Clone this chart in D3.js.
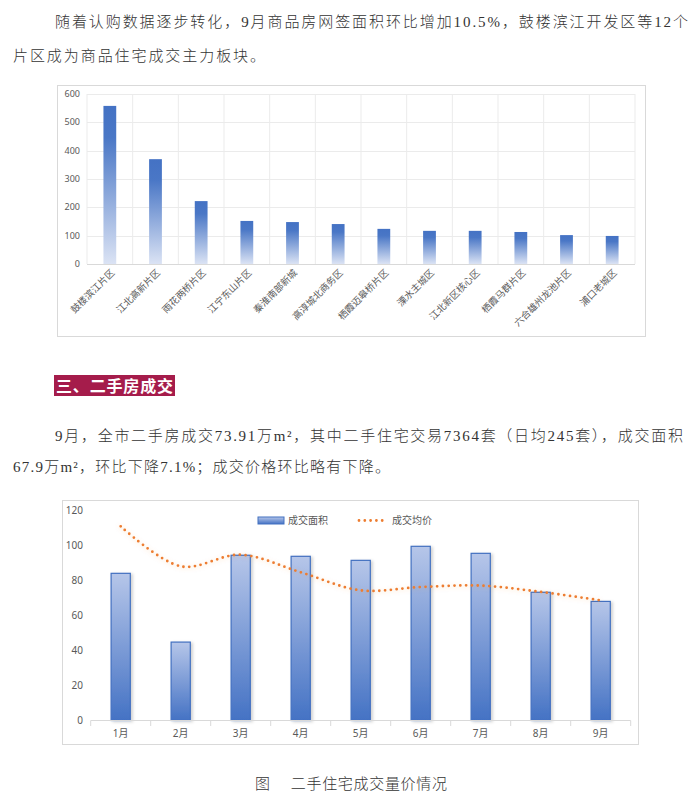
<!DOCTYPE html>
<html>
<head>
<meta charset="utf-8">
<script src="https://cdn.jsdelivr.net/npm/d3@7"></script>
<style>
	body { margin: 0; background: #fff; }
	svg { display: block; }
	.txt { font-family: "Liberation Serif", "Noto Sans CJK SC", serif; fill: #333; font-weight: 300; }
	.lbl { font-family: "Noto Sans", "Noto Sans CJK SC", sans-serif; fill: #595959; }
</style>
</head>
<body>
<svg id="page" width="700" height="799"></svg>
<script>
// 片区成交面积（上图）
var districts = ['鼓楼滨江片区', '江北高新片区', '雨花两桥片区', '江宁东山片区', '秦淮南部新城', '高淳城北商务区',
	'栖霞迈皋桥片区', '溧水主城区', '江北新区核心区', '栖霞马群片区', '六合雄州龙池片区', '浦口老城区'];
var districtArea = [558, 370, 222, 152, 148, 141, 124, 117, 117, 113, 102, 99];
var districtTicks = [0, 100, 200, 300, 400, 500, 600];

// 二手住宅成交量价（下图）
var months = ['1月', '2月', '3月', '4月', '5月', '6月', '7月', '8月', '9月'];
var areaValues = [83.9, 44.7, 94.2, 93.6, 91.3, 99.3, 95.3, 73.1, 67.9];
var priceValues = [110.7, 87.9, 94.5, 84.5, 74.2, 76.1, 76.9, 73.3, 68.5];
var monthTicks = [0, 20, 40, 60, 80, 100, 120];
var legendNames = ['成交面积', '成交均价'];

var svg = d3.select('#page');
var defs = svg.append('defs');

var g1 = defs.append('linearGradient').attr('id', 'grad1').attr('x1', 0).attr('y1', 0).attr('x2', 0).attr('y2', 1);
g1.append('stop').attr('offset', 0).attr('stop-color', '#4472c4');
g1.append('stop').attr('offset', 0.2).attr('stop-color', '#4a77c6');
g1.append('stop').attr('offset', 1).attr('stop-color', '#dbe3f4');

var g2 = defs.append('linearGradient').attr('id', 'grad2').attr('x1', 0).attr('y1', 0).attr('x2', 0).attr('y2', 1);
g2.append('stop').attr('offset', 0).attr('stop-color', '#b6c6e9');
g2.append('stop').attr('offset', 1).attr('stop-color', '#4472c4');

var sh = defs.append('filter').attr('id', 'shadow').attr('x', '-30%').attr('y', '-10%').attr('width', '160%').attr('height', '120%');
sh.append('feDropShadow').attr('dx', 2).attr('dy', 1).attr('stdDeviation', 1.6)
	.attr('flood-color', '#000').attr('flood-opacity', 0.18);

var glow = defs.append('filter').attr('id', 'glow').attr('x', '-10%').attr('y', '-20%').attr('width', '120%').attr('height', '140%');
glow.append('feDropShadow').attr('dx', 0).attr('dy', 1).attr('stdDeviation', 2)
	.attr('flood-color', '#ed7d31').attr('flood-opacity', 0.25);

// 正文
var addLine = function(str, x, y, len, size) {
	return svg.append('text').attr('class', 'txt')
		.attr('x', x).attr('y', y)
		.attr('font-size', size || 15)
		.attr('textLength', len).attr('lengthAdjust', 'spacing')
		.text(str);
};

addLine('随着认购数据逐步转化，9月商品房网签面积环比增加10.5%，鼓楼滨江开发区等12个', 55, 27, 633);
addLine('片区成为商品住宅成交主力板块。', 13, 61, 252);

svg.append('rect').attr('x', 54).attr('y', 375).attr('width', 121).attr('height', 21).attr('fill', '#a51c4b');
svg.append('text').attr('x', 56).attr('y', 391.5)
	.attr('font-family', '"Noto Sans CJK SC", sans-serif').attr('font-weight', 'bold')
	.attr('font-size', 16).attr('fill', '#fff')
	.attr('textLength', 117).attr('lengthAdjust', 'spacing')
	.text('三、二手房成交');

addLine('9月，全市二手房成交73.91万m²，其中二手住宅交易7364套（日均245套），成交面积', 55, 441, 628);
addLine('67.9万m²，环比下降7.1%；成交价格环比略有下降。', 13, 472, 377);

svg.append('text').attr('class', 'txt').attr('x', 255).attr('y', 789)
	.attr('font-family', '"Noto Sans CJK SC", sans-serif').attr('font-size', 15)
	.attr('textLength', 192).attr('lengthAdjust', 'spacing')
	.text('图\u3000 二手住宅成交量价情况');

// ---------- 上图 ----------
svg.append('rect').attr('x', 57.5).attr('y', 85.5).attr('width', 588).attr('height', 251)
	.attr('fill', '#fff').attr('stroke', '#d9d9d9');

var x1 = d3.scaleBand().domain(districts).range([87, 635]).paddingInner(0.72).paddingOuter(0.36);
var y1 = d3.scaleLinear().domain([0, 600]).range([264, 94]);
var half1 = (x1.step() - x1.bandwidth()) / 2;

var c1 = svg.append('g');
c1.selectAll('.hgrid').data(districtTicks.slice(1)).enter().append('line')
	.attr('x1', 87).attr('x2', 635)
	.attr('y1', function(d) { return Math.round(y1(d)) + 0.5; })
	.attr('y2', function(d) { return Math.round(y1(d)) + 0.5; })
	.attr('stroke', '#ebebeb');
c1.selectAll('.vgrid').data(districts.concat([null])).enter().append('line')
	.attr('x1', function(d) { return d ? x1(d) - half1 : 635; })
	.attr('x2', function(d) { return d ? x1(d) - half1 : 635; })
	.attr('y1', 94).attr('y2', 264)
	.attr('stroke', '#ebebeb');
c1.append('line').attr('x1', 87).attr('x2', 635).attr('y1', 264.5).attr('y2', 264.5).attr('stroke', '#d9d9d9');

c1.selectAll('.bar').data(districtArea).enter().append('rect')
	.attr('x', function(d, i) { return x1(districts[i]); })
	.attr('y', function(d) { return y1(d); })
	.attr('width', x1.bandwidth())
	.attr('height', function(d) { return y1(0) - y1(d); })
	.attr('fill', 'url(#grad1)');

c1.selectAll('.ylab').data(districtTicks).enter().append('text').attr('class', 'lbl')
	.attr('x', 80).attr('y', function(d) { return y1(d); }).attr('dy', '0.35em')
	.attr('text-anchor', 'end').attr('font-size', 9)
	.text(function(d) { return d; });

c1.selectAll('.xlab').data(districts).enter().append('text').attr('class', 'lbl')
	.attr('font-family', '"Noto Sans CJK SC", sans-serif')
	.attr('font-size', 9.5).attr('text-anchor', 'end').attr('dy', '0.35em')
	.attr('transform', function(d) { return 'translate(' + (x1(d) + x1.bandwidth() / 2 + 3) + ',271) rotate(-45)'; })
	.text(function(d) { return d; });

// ---------- 下图 ----------
svg.append('rect').attr('x', 62.5).attr('y', 500.5).attr('width', 576).attr('height', 244)
	.attr('fill', '#fff').attr('stroke', '#d9d9d9');

var x2 = d3.scaleBand().domain(months).range([90.7, 630.7]).paddingInner(0.68).paddingOuter(0.34);
var y2 = d3.scaleLinear().domain([0, 120]).range([720.5, 510]);
var half2 = (x2.step() - x2.bandwidth()) / 2;

var c2 = svg.append('g');
c2.selectAll('.ylab').data(monthTicks).enter().append('text').attr('class', 'lbl')
	.attr('x', 83).attr('y', function(d) { return y2(d); }).attr('dy', '0.35em')
	.attr('text-anchor', 'end').attr('font-size', 10)
	.text(function(d) { return d; });

c2.selectAll('.bar').data(areaValues).enter().append('rect')
	.attr('x', function(d, i) { return x2(months[i]); })
	.attr('y', function(d) { return y2(d); })
	.attr('width', x2.bandwidth())
	.attr('height', function(d) { return y2(0) - y2(d); })
	.attr('fill', 'url(#grad2)').attr('stroke', '#4270c0').attr('stroke-width', 1.2)
	.attr('filter', 'url(#shadow)');

c2.append('line').attr('x1', 90.7).attr('x2', 630.7).attr('y1', 720.5).attr('y2', 720.5).attr('stroke', '#d9d9d9');
c2.selectAll('.tick').data(months.concat([null])).enter().append('line')
	.attr('x1', function(d) { return d ? x2(d) - half2 : 630.7; })
	.attr('x2', function(d) { return d ? x2(d) - half2 : 630.7; })
	.attr('y1', 720.5).attr('y2', 726)
	.attr('stroke', '#d9d9d9');

c2.selectAll('.xlab').data(months).enter().append('text').attr('class', 'lbl')
	.attr('font-family', '"Noto Sans", "Noto Sans CJK SC", sans-serif')
	.attr('x', function(d) { return x2(d) + x2.bandwidth() / 2; })
	.attr('y', 733).attr('dy', '0.35em')
	.attr('text-anchor', 'middle').attr('font-size', 10)
	.text(function(d) { return d; });

var priceLine = d3.line()
	.x(function(d, i) { return x2(months[i]) + x2.bandwidth() / 2; })
	.y(function(d) { return y2(d); })
	.curve(d3.curveCatmullRom.alpha(0.5));

c2.append('path').datum(priceValues)
	.attr('d', priceLine)
	.attr('fill', 'none').attr('stroke', '#ed7d31').attr('stroke-width', 2.8)
	.attr('stroke-linecap', 'round').attr('stroke-dasharray', '0 5.8')
	.attr('filter', 'url(#glow)');

// 图例
var lg = c2.append('g').attr('class', 'legend');
lg.append('rect').attr('x', 258).attr('y', 517).attr('width', 26).attr('height', 7)
	.attr('fill', 'url(#grad2)').attr('stroke', '#4270c0');
lg.append('text').attr('class', 'lbl').attr('font-family', '"Noto Sans CJK SC", sans-serif')
	.attr('x', 288).attr('y', 520.5).attr('dy', '0.35em').attr('font-size', 10)
	.text(legendNames[0]);
lg.append('line').attr('x1', 359).attr('x2', 386).attr('y1', 520.5).attr('y2', 520.5)
	.attr('stroke', '#ed7d31').attr('stroke-width', 2.8)
	.attr('stroke-linecap', 'round').attr('stroke-dasharray', '0 5.8');
lg.append('text').attr('class', 'lbl').attr('font-family', '"Noto Sans CJK SC", sans-serif')
	.attr('x', 392).attr('y', 520.5).attr('dy', '0.35em').attr('font-size', 10)
	.text(legendNames[1]);
</script>
</body>
</html>
